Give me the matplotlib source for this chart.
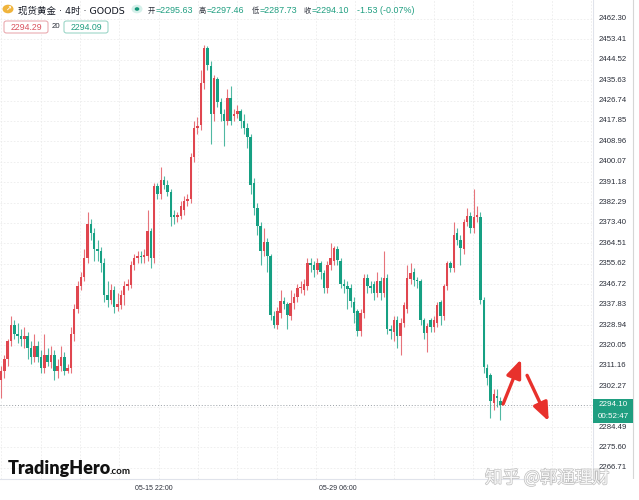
import matplotlib
matplotlib.use('Agg')
import matplotlib.pyplot as plt
import matplotlib.patheffects as pe
from matplotlib.patches import Circle, FancyBboxPatch
import numpy as np

# OHLC, 4h candles
opens = [2305, 2309, 2314, 2322, 2329, 2325, 2324, 2323, 2324, 2319,
         2315, 2320, 2315, 2310, 2316, 2313, 2316, 2309, 2311, 2315,
         2309, 2310, 2325, 2336, 2346, 2350, 2358, 2373, 2369, 2362,
         2361, 2356, 2342, 2340, 2344, 2337, 2337.7, 2342, 2346, 2346.5,
         2355, 2358, 2359, 2358.5, 2359, 2369.7, 2358, 2389.6, 2386, 2392,
         2390, 2387, 2377, 2376, 2376.6, 2379, 2383, 2384, 2402, 2415,
         2416, 2434.6, 2449.7, 2442, 2421, 2436, 2426, 2421, 2418, 2428,
         2420, 2421, 2422, 2418, 2415, 2411, 2391, 2380, 2372, 2361,
         2365, 2359, 2333, 2329, 2334, 2339.4, 2338, 2333, 2338.6, 2341,
         2345, 2344, 2346, 2356, 2355, 2353, 2356, 2351.6, 2345, 2355,
         2357, 2362, 2357, 2347, 2346, 2345, 2339, 2335, 2326.5, 2334,
         2349.4, 2346, 2347, 2343, 2348, 2343, 2349.4, 2327, 2326, 2331,
         2324, 2330, 2336, 2349, 2352, 2348.5, 2348, 2331, 2325.6, 2331,
         2328, 2330, 2339, 2333, 2346, 2356, 2354, 2369, 2366, 2362,
         2374, 2376.6, 2371, 2376, 2376, 2340, 2310, 2307, 2295, 2298,
         2295.63]
highs = [2311, 2316, 2323, 2333, 2331, 2330, 2327, 2328, 2326, 2322,
         2325, 2322, 2318, 2325, 2319, 2320, 2318, 2314, 2320, 2317,
         2312, 2328, 2338, 2348, 2352, 2362, 2378, 2375, 2371, 2366,
         2363, 2358, 2348, 2347, 2346, 2343, 2344, 2348, 2349, 2357,
         2360, 2361, 2361, 2362, 2379, 2371, 2391, 2391, 2398, 2394,
         2392, 2388, 2379, 2378, 2383, 2385, 2386, 2404, 2418, 2419.5,
         2440, 2451, 2450.5, 2444, 2438, 2437, 2428, 2423, 2431.6, 2433,
         2423, 2425, 2423, 2421, 2417, 2412, 2393, 2382, 2374, 2371,
         2367, 2360, 2335, 2337, 2344, 2341, 2339, 2344, 2343, 2347,
         2348, 2349, 2358, 2358, 2357, 2358, 2357, 2353, 2357, 2364.5,
         2363.5, 2363.5, 2358, 2349, 2348, 2347, 2341, 2336, 2336, 2351,
         2351, 2348, 2348, 2352, 2350, 2361, 2351, 2329, 2333, 2333,
         2332, 2339, 2355, 2356, 2354, 2350, 2349, 2332, 2330, 2332,
         2333, 2339, 2340, 2347, 2357, 2357, 2374, 2371, 2368, 2375,
         2380, 2378, 2388.3, 2381, 2378, 2341, 2312, 2308, 2301, 2301,
         2297.46]
lows = [2297, 2306, 2311, 2320, 2323, 2321, 2320, 2319, 2314, 2312,
        2313, 2313, 2308, 2308, 2311, 2310, 2305, 2306, 2309, 2307,
        2308, 2308, 2322, 2334, 2344, 2348, 2356, 2366, 2357, 2357,
        2352, 2339, 2337, 2338, 2334, 2335, 2336, 2337.7, 2344, 2345,
        2353, 2356, 2356, 2356, 2357, 2353.7, 2356, 2384, 2384, 2388,
        2385, 2372, 2373, 2374, 2375, 2377, 2381, 2382, 2400, 2412,
        2414, 2432, 2440, 2407.8, 2418, 2424, 2418, 2407, 2416, 2416,
        2418, 2419, 2415, 2412, 2406, 2386, 2377, 2368, 2355, 2359,
        2352, 2331, 2327.8, 2327, 2332, 2336, 2327, 2331, 2336, 2339,
        2343, 2342, 2344, 2352, 2350, 2351, 2349, 2343, 2343, 2353,
        2355, 2355, 2345, 2343, 2336, 2337, 2330, 2324, 2324, 2332,
        2343, 2343, 2340, 2341, 2340, 2341, 2325, 2323, 2322, 2319,
        2316, 2328, 2334, 2347, 2346, 2345, 2329, 2323, 2317, 2326,
        2326, 2328, 2329, 2331, 2344, 2352, 2352, 2364, 2355, 2360,
        2372, 2369, 2369, 2374, 2338, 2308, 2303, 2288.5, 2292, 2293,
        2287.73]
closes = [2309, 2314, 2322, 2329, 2325, 2324, 2323, 2324, 2319, 2315,
          2320, 2315, 2310, 2316, 2313, 2316, 2309, 2311, 2315, 2309,
          2310, 2325, 2336, 2346, 2350, 2358, 2373, 2369, 2362, 2361,
          2356, 2342, 2340, 2344, 2337, 2338, 2342, 2346, 2347, 2355,
          2358, 2359, 2358.5, 2359.5, 2369.7, 2358, 2389.6, 2386, 2392, 2390,
          2387, 2376, 2376, 2377, 2381, 2383, 2384, 2402, 2415, 2415.5,
          2434.6, 2449.7, 2442.4, 2421, 2436.8, 2426, 2421, 2417.7, 2428, 2417.7,
          2421, 2422, 2417.7, 2415, 2411, 2390, 2380, 2372, 2361, 2365,
          2359, 2333.4, 2329, 2335, 2339.4, 2338, 2333.4, 2338.6, 2341, 2345,
          2345.5, 2347, 2356, 2355, 2353, 2356, 2352, 2345, 2355, 2358,
          2362.4, 2357.2, 2347, 2346, 2344.6, 2339.4, 2334, 2326.5, 2334, 2349.4,
          2346, 2345, 2343, 2348, 2343, 2349.4, 2327, 2326.5, 2331, 2324,
          2330, 2337.7, 2349.4, 2351.6, 2348.5, 2348, 2331, 2325.6, 2328.6, 2328,
          2331, 2337.7, 2333, 2346, 2355.9, 2354, 2368, 2366, 2362.4, 2374,
          2376.6, 2371, 2376, 2377, 2340, 2310.5, 2306, 2296, 2299, 2297,
          2294.10]

price_ticks = [2462.30, 2453.41, 2444.52, 2435.63, 2426.74, 2417.85, 2408.96,
               2400.07, 2391.18, 2382.29, 2373.40, 2364.51, 2355.62, 2346.72,
               2337.83, 2328.94, 2320.05, 2311.16, 2302.27, 2284.49, 2275.60,
               2266.71]
time_ticks = [46, 101]
time_labels = ['05-15 22:00', '05-29 06:00']
last_price = 2294.10

# red arrows drawn on the chart: (start, end) in (candle index, price)
arrows = [((150.8, 2294.5), (156.2, 2314.0)),
          ((158.0, 2307.0), (164.5, 2287.0))]

up_col = '#e0464f'
dn_col = '#16a083'

plt.rcParams['font.family'] = ['DejaVu Sans', 'Noto Sans CJK SC']

W, H = 639, 500
fig = plt.figure(figsize=(W / 100, H / 100), dpi=100)
fig.patch.set_facecolor('white')

def fx(x):
    return x / W

def fy(y):
    return 1 - y / H

ax = fig.add_axes([0, fy(479), fx(593), 1 - fy(479)])
ax.set_facecolor('white')

o = np.array(opens)
h = np.array(highs)
l = np.array(lows)
c = np.array(closes)
idx = np.arange(len(c))
cols = np.where(c >= o, up_col, dn_col)

# grid
for p in price_ticks + [2293.38]:
    ax.axhline(p, color='#ececec', lw=0.6, ls=(0, (2, 2)), zorder=0)
for gx in np.arange(0.15, 178, 11.8):
    ax.axvline(gx, color='#ececec', lw=0.6, ls=(0, (2, 2)), zorder=0)

ax.vlines(idx, l, h, colors=cols, lw=0.8, alpha=0.75, zorder=2)
body = np.maximum(np.abs(c - o), 0.5)
ax.bar(idx, body, bottom=np.minimum(o, c), width=0.75, color=cols,
       linewidth=0, zorder=3)

ax.axhline(last_price, color='#9aa0a6', lw=0.7, ls=(0, (1, 2)), zorder=1)

for (x0, y0), (x1, y1) in arrows:
    ax.annotate('', xy=(x1, y1), xytext=(x0, y0),
                arrowprops=dict(arrowstyle='-|>,head_length=1.1,head_width=0.45',
                                color='#e8312c', lw=2.4, shrinkA=0, shrinkB=0),
                zorder=5)

ax.set_xlim(-0.3, 177.8)
ax.set_ylim(2261.83, 2470.58)
ax.set_xticks([])
ax.set_yticks([])
for s in ax.spines.values():
    s.set_visible(False)

# right price scale
yax = fig.add_axes([fx(593), fy(479), fx(46), 1 - fy(479)])
yax.set_ylim(ax.get_ylim())
yax.set_xlim(0, 1)
yax.axis('off')
for p in price_ticks:
    yax.text(0.13, p, f'{p:.2f}', fontsize=5.6, color='#2a2e39',
             family='Liberation Sans', va='center', ha='left')
yax.axvline(0, color='#e0e3eb', lw=0.8)
yax.axvline(0.87, color='#d6d6d6', lw=0.8)
yax.add_patch(FancyBboxPatch((0.0, 2286.4), 0.87, 10.2, boxstyle='square,pad=0',
                             fc='#1f9e80', ec='none', zorder=5))
yax.text(0.44, 2294.2, f'{last_price:.2f}', fontsize=5.8, color='white',
         family='Liberation Sans', ha='center', va='center', zorder=6)
yax.text(0.44, 2288.9, '00:52:47', fontsize=5.8, color='white',
         family='Liberation Sans', ha='center', va='center', zorder=6)

# time scale
fig.add_artist(plt.Line2D([0, fx(593)], [fy(479), fy(479)], color='#e0e3eb', lw=0.8))
for t, lab in zip(time_ticks, time_labels):
    xp = (1 + 3.33 * t)
    fig.text(fx(xp), fy(488), lab, fontsize=5.0, color='#2a2e39',
             family='Liberation Sans', ha='center', va='center')

# header
fig.add_artist(Circle((fx(8), fy(9)), 5.5 / W, transform=fig.transFigure,
                      fc='#f0b43c', ec='none'))
fig.text(fx(8), fy(9.5), '↗', fontsize=5, color='white', ha='center', va='center',
         fontweight='bold')
fig.text(fx(18), fy(13.5), '现货黄金 · 4时 · GOODS', fontsize=6.8, color='#131722',
         va='baseline', ha='left')
fig.add_artist(Circle((fx(137), fy(9)), 5.5 / W, transform=fig.transFigure,
                      fc='#d5f0ea', ec='none'))
fig.add_artist(Circle((fx(137), fy(9)), 2.3 / W, transform=fig.transFigure,
                      fc='#14977a', ec='none'))

ohlc_parts = [(148, '开', '=2295.63'), (199, '高', '=2297.46'),
              (252, '低', '=2287.73'), (304, '收', '=2294.10')]
for xp, lab, val in ohlc_parts:
    fig.text(fx(xp), fy(13), lab, fontsize=5.2, color='#2a2e39',
             va='baseline', ha='left')
    fig.text(fx(xp + 7.5), fy(13), val, fontsize=6.4, color='#1f9e80',
             family='Liberation Sans', va='baseline', ha='left')
fig.text(fx(357), fy(13), '-1.53 (-0.07%)', fontsize=6.4, color='#1f9e80',
         family='Liberation Sans', va='baseline', ha='left')

fig.add_artist(FancyBboxPatch((fx(4), fy(33)), fx(44), 12 / H,
                              boxstyle='round,pad=0,rounding_size=0.004',
                              transform=fig.transFigure, fc='white', ec='#e7a0a6', lw=0.7))
fig.text(fx(26), fy(27), '2294.29', fontsize=6.3, color='#d9525e',
         family='Liberation Sans', ha='center', va='center')
fig.text(fx(56), fy(27), '20', fontsize=5.6, color='#2a2e39',
         family='Liberation Sans', ha='center', va='center')
fig.add_artist(FancyBboxPatch((fx(64), fy(33)), fx(44), 12 / H,
                              boxstyle='round,pad=0,rounding_size=0.004',
                              transform=fig.transFigure, fc='white', ec='#8fd1c1', lw=0.7))
fig.text(fx(86), fy(27), '2294.09', fontsize=6.3, color='#1f9e80',
         family='Liberation Sans', ha='center', va='center')

# watermarks
fig.text(fx(8), fy(474), 'TradingHero', fontsize=13, color='#111111',
         family='Lato', fontweight='heavy', ha='left', va='baseline')
fig.text(fx(110), fy(474), '.com', fontsize=7, color='#111111',
         family='Lato', fontweight='bold', ha='left', va='baseline')
fig.text(fx(485), fy(478), '知乎 @郭通理财', fontsize=12.5, color='white', alpha=0.9,
         family=['Noto Sans CJK SC', 'DejaVu Sans'], ha='left', va='center',
         path_effects=[pe.withStroke(linewidth=1.0, foreground='#b8b8b8')], zorder=10)

fig.savefig('out.png', dpi=100, facecolor='white')
